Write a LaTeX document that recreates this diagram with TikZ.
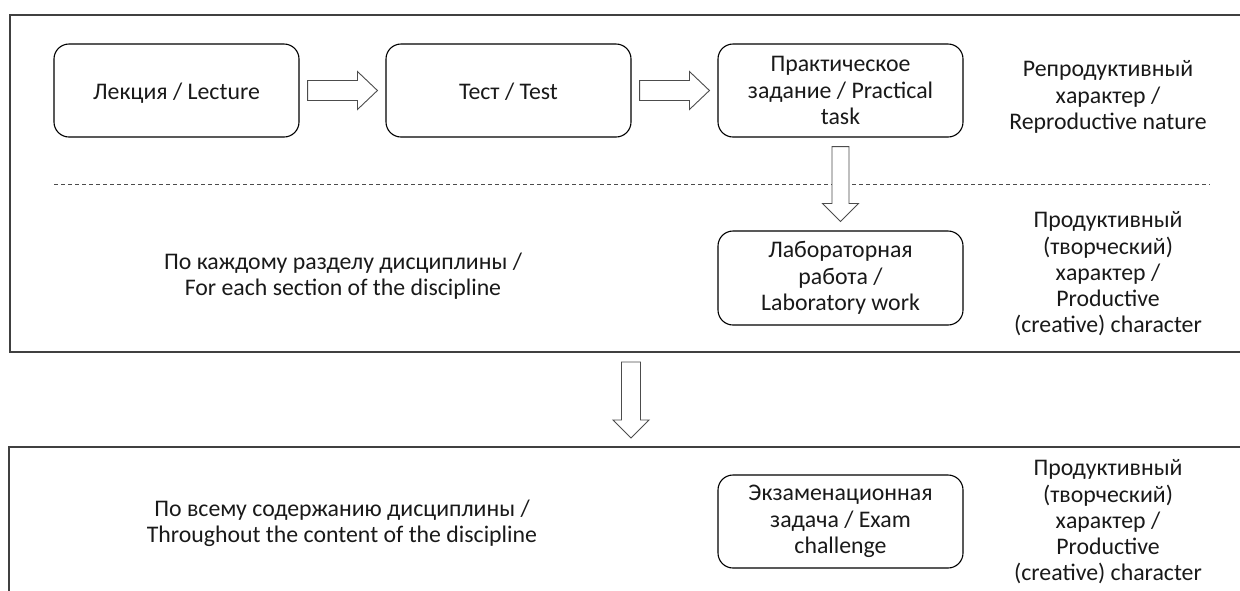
\documentclass[tikz,border=0pt]{standalone}
\usepackage{fontspec}
\setmainfont{Carlito}
\usetikzlibrary{calc}
\begin{document}
\begin{tikzpicture}[x=1pt,y=-1pt,
  every node/.style={font=\fontsize{23.8}{26.3}\selectfont, text=black!90},
  frm/.style={draw=black!75, line width=1.2pt, minimum width=0pt, minimum height=0pt},
  rbox/.style={draw=black, line width=1.1pt, rounded corners=15pt, minimum width=245pt, minimum height=93pt, align=center, inner sep=2pt},
  onebox/.style={rbox, text height=23pt, text depth=5pt},
  lbl/.style={align=center, inner sep=0pt},
  blk/.style={draw=black!70, line width=0.9pt, fill=white, line join=miter}]
\useasboundingbox (0,0) rectangle (1240,590);
\clip (0,0) rectangle (1240,590);
% frames
\draw[frm] (10,15) rectangle (1260,352);
\draw[frm] (9,447) rectangle (1260,640);
\coordinate (ftop) at (631,352);
\coordinate (fbot) at (631,447);
% boxes
\node[onebox] (lec) at (176.5,90.5) {Лекция / Lecture};
\node[onebox] (tst) at (508.5,90.5) {Тест / Test};
\node[rbox] (prc) at (840.5,90.5) {Практическое\\задание / Practical\\task};
\node[rbox, minimum height=94pt] (lab) at (840.5,278) {Лабораторная\\работа /\\Laboratory work};
\node[rbox] (exm) at (840.5,521.5) {Экзаменационная\\задача / Exam\\challenge};
% labels
\node[lbl] (rep) at (1108,97) {Репродуктивный\\характер /\\Reproductive nature};
\node[lbl] (pro1) at (1108,274) {Продуктивный\\(творческий)\\характер /\\Productive\\(creative) character};
\node[lbl] (pro2) at (1108,522) {Продуктивный\\(творческий)\\характер /\\Productive\\(creative) character};
\node[lbl] (each) at (343,276) {По каждому разделу дисциплины /\\For each section of the discipline};
\node[lbl] (all) at (342,523) {По всему содержанию дисциплины /\\Throughout the content of the discipline};
% dashed divider
\coordinate (dl) at (54,184);
\coordinate (dr) at (1210,184);
\draw[black!70, line width=0.9pt, dash pattern=on 4pt off 3pt] (dl) -- (dr);
% right block arrows
\foreach \a/\b in {lec/tst, tst/prc}{
  \draw[blk] let \p1=(\a.east), \p2=(\b.west) in
    (\x1+8,\y1+10) -- (\x2-28,\y1+10) -- (\x2-28,\y1+19) -- (\x2-8,\y1)
    -- (\x2-28,\y1-19) -- (\x2-28,\y1-10) -- (\x1+8,\y1-10) -- cycle;
}
% down block arrow prc -> lab
\draw[blk] let \p1=(prc.south), \p2=(lab.north) in
  (\x1-8.5,\y1-9) -- (\x1+8.5,\y1-9) -- (\x1+8.5,\y2+27) -- (\x1+18,\y2+27)
  -- (\x1,\y2+9) -- (\x1-18,\y2+27) -- (\x1-8.5,\y2+27) -- cycle;
% down block arrow between frames
\draw[blk] let \p1=(ftop), \p2=(fbot) in
  (\x1-9.5,\y1-10) -- (\x1+9.5,\y1-10) -- (\x1+9.5,\y2+27) -- (\x1+18,\y2+27)
  -- (\x1,\y2+9) -- (\x1-18,\y2+27) -- (\x1-9.5,\y2+27) -- cycle;
\end{tikzpicture}
\end{document}
